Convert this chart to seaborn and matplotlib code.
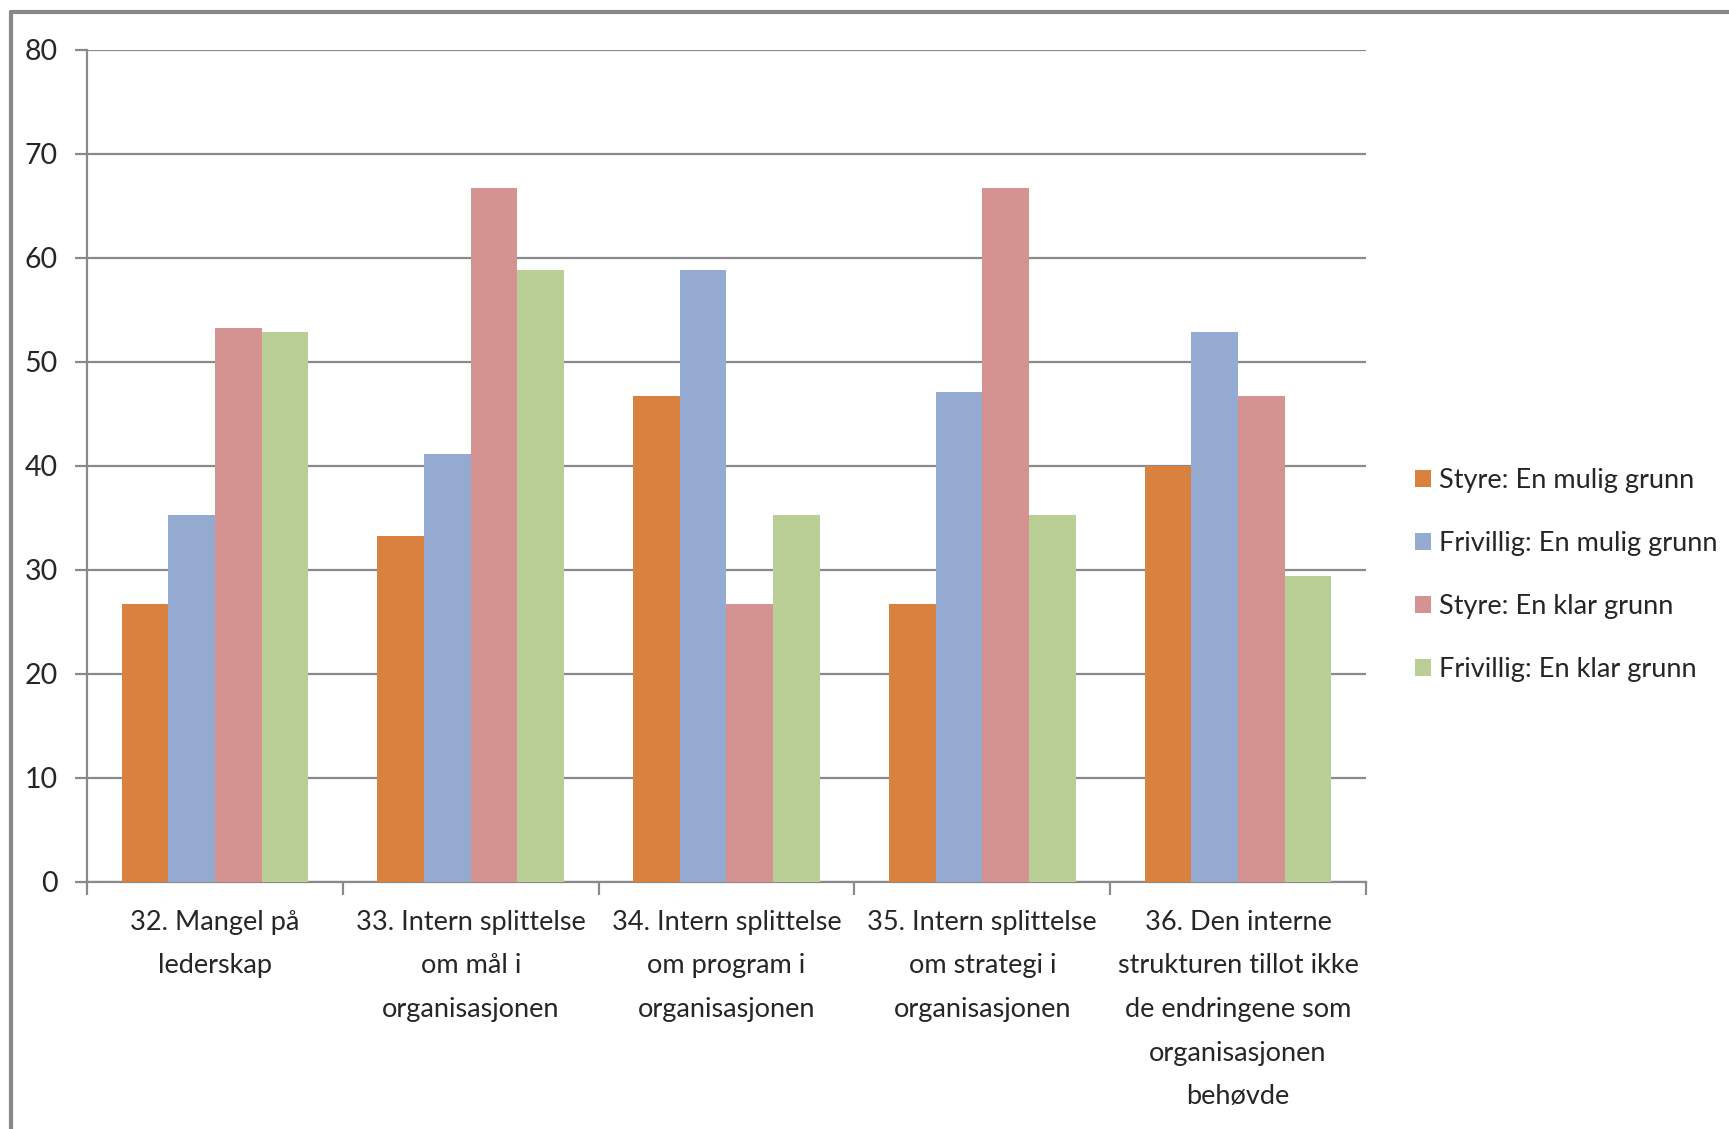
import matplotlib
matplotlib.use("Agg")
import matplotlib.pyplot as plt
from matplotlib.lines import Line2D
from matplotlib.ticker import MultipleLocator, FixedLocator
import seaborn as sns
import pandas as pd

categories = [
    "32. Mangel på\nlederskap",
    "33. Intern splittelse\nom mål i\norganisasjonen",
    "34. Intern splittelse\nom program i\norganisasjonen",
    "35. Intern splittelse\nom strategi i\norganisasjonen",
    "36. Den interne\nstrukturen tillot ikke\nde endringene som\norganisasjonen\nbehøvde",
]
series = [
    "Styre: En mulig grunn",
    "Frivillig: En mulig grunn",
    "Styre: En klar grunn",
    "Frivillig: En klar grunn",
]
styre_mulig = [26.7, 33.3, 46.7, 26.7, 40.0]
frivillig_mulig = [35.3, 41.2, 58.8, 47.1, 52.9]
styre_klar = [53.3, 66.7, 26.7, 66.7, 46.7]
frivillig_klar = [52.9, 58.8, 35.3, 35.3, 29.4]
colors = ["#D9823F", "#95AAD0", "#D49391", "#B9CF96"]

rows = []
for name, vals in zip(series, [styre_mulig, frivillig_mulig, styre_klar, frivillig_klar]):
    for cat, v in zip(categories, vals):
        rows.append({"kategori": cat, "serie": name, "prosent": v})
df = pd.DataFrame(rows)

sns.set_theme(style="white")
plt.rcParams["font.family"] = ["Lato", "DejaVu Sans"]

W, H = 1729, 1129
fig = plt.figure(figsize=(W / 100, H / 100), dpi=100)
fig.patch.set_facecolor("white")
ax = fig.add_axes([87 / W, 1 - 882 / H, (1366 - 87) / W, (882 - 50) / H])

sns.barplot(data=df, x="kategori", y="prosent", hue="serie", order=categories,
            hue_order=series, palette=colors, width=0.73, saturation=1,
            edgecolor="none", linewidth=0, ax=ax, zorder=3)

ax.set_ylim(0, 80)
ax.set_xlim(-0.5, len(categories) - 0.5)
ax.yaxis.set_major_locator(MultipleLocator(10))
ax.grid(axis="y", color="#8A8A8A", linewidth=1.6, zorder=0)
ax.grid(axis="x", visible=False)
ax.set_axisbelow(True)
ax.set_xlabel("")
ax.set_ylabel("")

for s in ["top", "right"]:
    ax.spines[s].set_visible(False)
for s in ["left", "bottom"]:
    ax.spines[s].set_color("#8A8A8A")
    ax.spines[s].set_linewidth(1.6)

ax.tick_params(axis="y", which="major", direction="out", length=9, width=1.6,
               color="#8A8A8A", labelsize=20.5, pad=12, left=True)
ax.tick_params(axis="x", which="major", length=0, labelsize=19.5, pad=20)
ax.xaxis.set_minor_locator(FixedLocator([i - 0.5 for i in range(len(categories) + 1)]))
ax.tick_params(axis="x", which="minor", direction="out", length=9, width=1.6,
               color="#8A8A8A", bottom=True)
for lab in ax.get_xticklabels():
    lab.set_linespacing(1.93)
    lab.set_va("top")

leg = ax.legend(loc="center left", bbox_to_anchor=(1404 / W, 1 - 575 / H),
                bbox_transform=fig.transFigure, frameon=False, fontsize=19.5,
                handlelength=0.6, handleheight=0.6, handletextpad=0.3,
                labelspacing=1.4, borderaxespad=0, title=None)

# outer chart frame
fig.add_artist(Line2D([11 / W, 1], [1 - 12 / H, 1 - 12 / H], transform=fig.transFigure,
                      color="#878787", linewidth=3))
fig.add_artist(Line2D([11 / W, 11 / W], [0, 1 - 12 / H], transform=fig.transFigure,
                      color="#878787", linewidth=3))

fig.savefig("out.png", dpi=100)
